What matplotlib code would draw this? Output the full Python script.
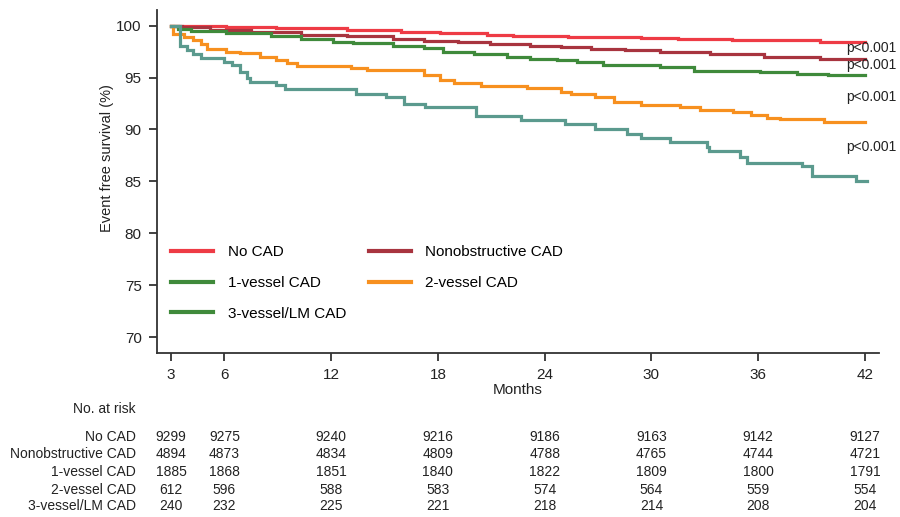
import matplotlib
matplotlib.use("Agg")
import matplotlib.pyplot as plt
from matplotlib import font_manager
from matplotlib.transforms import blended_transform_factory

names = {f.name for f in font_manager.fontManager.ttflist}
FONT = "Liberation Sans Narrow" if "Liberation Sans Narrow" in names else "Liberation Sans"
plt.rcParams["font.family"] = [FONT, "DejaVu Sans"]

# ---------------- data ----------------
labels = ["No CAD", "Nonobstructive CAD", "1-vessel CAD", "2-vessel CAD", "3-vessel/LM CAD"]
colors = ["#ee3b45", "#a8343f", "#3f8a3b", "#f7901f", "#5b9a8e"]

t_nocad = [3, 3.5, 6.1, 8.9, 12.9, 15.9, 18.1, 20.75, 22.2, 25.3, 29.4, 31.5, 34.5, 39.5, 42.0]
s_nocad = [100, 99.92, 99.82, 99.72, 99.55, 99.4, 99.27, 99.1, 99.0, 98.88, 98.8, 98.7, 98.58, 98.46, 98.46]

t_nonob = [3, 3.6, 5.2, 7.5, 10.3, 12.9, 15.5, 17.2, 19.1, 20.9, 23.2, 24.9, 26.6, 28.5, 30.5, 33.3, 36.3, 39.5, 42.0]
s_nonob = [100, 99.85, 99.6, 99.35, 99.1, 98.95, 98.7, 98.55, 98.4, 98.2, 98.0, 97.9, 97.75, 97.65, 97.5, 97.25, 97.0, 96.77, 96.77]

t_1v = [3, 3.4, 4.1, 6.1, 8.6, 10.3, 12.1, 13.2, 15.5, 17.2, 18.3, 20.0, 21.9, 23.2, 24.7, 25.8, 27.3, 30.5, 32.4, 36.1, 38.2, 39.9, 42.0]
s_1v = [100, 99.7, 99.5, 99.27, 99.0, 98.7, 98.46, 98.3, 98.0, 97.83, 97.5, 97.28, 97.0, 96.8, 96.7, 96.54, 96.2, 96.06, 95.65, 95.52, 95.36, 95.2, 95.2]

t_2v = [3, 3.1, 3.7, 4.25, 4.7, 5.0, 6.1, 6.9, 8.0, 8.9, 9.5, 10.1, 13.1, 14.0, 17.2, 18.1, 18.9, 20.4, 23.0, 24.9, 25.5, 26.85, 27.9, 29.4, 31.6, 32.75, 34.6, 35.6, 36.5, 37.25, 39.7, 42.0]
s_2v = [100, 99.2, 98.94, 98.63, 98.2, 97.76, 97.5, 97.35, 97.0, 96.7, 96.4, 96.15, 95.96, 95.74, 95.26, 94.8, 94.5, 94.2, 94.0, 93.65, 93.4, 93.1, 92.6, 92.38, 92.15, 91.9, 91.64, 91.4, 91.1, 91.0, 90.7, 90.7]

t_3v = [3, 3.5, 3.9, 4.25, 4.7, 5.95, 6.4, 6.9, 7.26, 7.44, 8.9, 9.4, 13.4, 15.1, 16.07, 17.29, 20.15, 22.67, 25.16, 26.85, 28.6, 29.4, 31.07, 33.1, 33.25, 35.0, 35.38, 38.47, 39.04, 41.47, 42.1]
s_3v = [100, 98.0, 97.66, 97.25, 96.87, 96.54, 96.2, 95.58, 94.94, 94.6, 94.3, 93.9, 93.43, 93.08, 92.5, 92.15, 91.3, 90.87, 90.5, 90.0, 89.6, 89.2, 88.75, 88.3, 87.95, 87.4, 86.77, 86.45, 85.5, 85.05, 85.05]

series_t = [t_nocad, t_nonob, t_1v, t_2v, t_3v]
series_s = [s_nocad, s_nonob, s_1v, s_2v, s_3v]

xticks = [3, 6, 12, 18, 24, 30, 36, 42]
yticks = [70, 75, 80, 85, 90, 95, 100]

pvals = ["p<0.001", "p<0.001", "p<0.001", "p<0.001"]
p_y = [97.83, 96.22, 93.17, 88.37]

risk_labels = ["No CAD", "Nonobstructive CAD", "1-vessel CAD", "2-vessel CAD", "3-vessel/LM CAD"]
risk = [
    [9299, 9275, 9240, 9216, 9186, 9163, 9142, 9127],
    [4894, 4873, 4834, 4809, 4788, 4765, 4744, 4721],
    [1885, 1868, 1851, 1840, 1822, 1809, 1800, 1791],
    [612, 596, 588, 583, 574, 564, 559, 554],
    [240, 232, 225, 221, 218, 214, 208, 204],
]

# ---------------- figure ----------------
W, H = 900, 517
fig = plt.figure(figsize=(9, 5.17), dpi=100)
ax = fig.add_axes([157 / W, 1 - 352.7 / H, (879 - 157) / W, (352.7 - 10) / H])

lines = {}
for lab, c, t, s in zip(labels, colors, series_t, series_s):
    ln, = ax.step(t, s, where="post", color=c, lw=2.3, label=lab, solid_joinstyle="miter")
    lines[lab] = ln

ax.set_xlim(2.21, 42.79)
ax.set_ylim(68.52, 101.5)
ax.set_xticks(xticks)
ax.set_yticks(yticks)
for sp in ["top", "right"]:
    ax.spines[sp].set_visible(False)
for sp in ["left", "bottom"]:
    ax.spines[sp].set_color("#333333")
    ax.spines[sp].set_linewidth(1.3)
ax.tick_params(axis="both", direction="out", length=6, width=1.3, color="#333333",
               labelsize=11, labelcolor="#222222")
ax.tick_params(axis="x", pad=5)
ax.tick_params(axis="y", pad=5)

fig.text(518 / W, 1 - 390 / H, "Months", ha="center", va="center", fontsize=11, color="#222222")
fig.text(107 / W, 1 - 158 / H, "Event free survival (%)", rotation=90, ha="center", va="center",
         fontsize=10.5, color="#222222")

for txt, yv in zip(pvals, p_y):
    ax.text(846 / W, 1 - (25.7 + (100 - yv) * 10.4) / H, txt, transform=fig.transFigure,
            ha="left", va="center", fontsize=10, color="#222222")

order = ["No CAD", "1-vessel CAD", "3-vessel/LM CAD", "Nonobstructive CAD", "2-vessel CAD"]
leg = ax.legend([lines[o] for o in order], order, ncol=2, frameon=False, fontsize=11,
                loc="upper left", bbox_to_anchor=(165 / W, 1 - 239 / H), bbox_transform=fig.transFigure,
                handlelength=2.75, handletextpad=0.95, columnspacing=1.5, labelspacing=1.1,
                borderaxespad=0)
for h in leg.legend_handles:
    h.set_linewidth(3)
leg.legend_handles[2].set_color(colors[2])

# ---------------- risk table ----------------
tr = blended_transform_factory(ax.transData, fig.transFigure)
fig.text(136 / W, 1 - 409 / H, "No. at risk", ha="right", va="center", fontsize=10, color="#222222")
row_y = [437, 454.5, 472, 489.5, 506.5]
for lab, vals, yy in zip(risk_labels, risk, row_y):
    fig.text(136 / W, 1 - yy / H, lab, ha="right", va="center", fontsize=10, color="#222222")
    for xv, v in zip(xticks, vals):
        ax.text(xv, 1 - yy / H, str(v), transform=tr, ha="center", va="center",
                fontsize=10, color="#222222", clip_on=False)

fig.savefig("out.png", dpi=100)
